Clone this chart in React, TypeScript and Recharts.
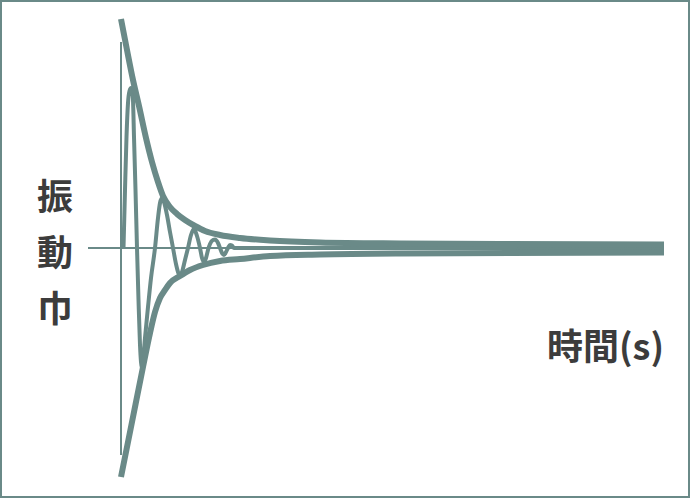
import { LineChart, Line, XAxis, YAxis, ReferenceLine } from "recharts";

const teal = "#6a8a88";
const ink = "#3c3c3c";

// upper envelope
const upperTime = [0, 3, 6, 9, 12.5, 15.5, 18.5, 21, 24.5, 28, 32, 37, 42, 49.5, 59.5, 74.5, 99.5, 139.5, 189.5, 271.5];
const upperAmp = [114.5, 99, 84, 71, 55, 43, 33, 26, 20.5, 17, 14, 11, 8.5, 6.5, 5, 3.75, 2.75, 2.25, 2, 1.75];

// lower envelope
const lowerTime = [0, 5.5, 11, 14.5, 17, 19.5, 22, 24.5, 29.5, 34.5, 41, 49.5, 59.5, 74.5, 99.5, 139.5, 271.5];
const lowerAmp = [-114.5, -87, -59.5, -42.5, -32, -25, -21, -17.5, -14, -11, -8.5, -6.5, -5.5, -4, -3.25, -2.75, -2.25];

// damped oscillation
const waveTime = [
  1.25, 2, 2.75, 3.5, 4.25, 5, 5.75, 6, 6.5, 7.25, 8, 8.75, 9.5, 10.5, 12, 13.5, 15, 17, 18.5, 19.5,
  20.5, 21.5, 23, 24.5, 26, 27.5, 28.5, 29.5, 30.5, 32, 33.5, 35, 36.5, 38, 39.5, 40.5, 41.5, 42.5,
  43.5, 44.5, 46, 47, 48.5, 49.5, 50.5, 51.5, 52.5, 53.5, 54.5, 55.5, 56.5, 271.5,
];
const waveAmp = [
  0, 29, 55.5, 72.5, 78.5, 80, 78, 74, 55.5, 29, 0, -26, -48.5, -60, -45, -29.5, -15, 0, 15, 22.5,
  25, 23, 16.5, 8, 0, -8, -12, -14, -12, -6, 0, 6.5, 9.5, 6, 0, -5, -7, -5,
  -1, 2, 4, 4.25, 2.5, 0, -2.5, -3.5, -2, 0, 1.5, 1.25, 0, 0,
];

const xRange: [number, number] = [-16.5, 271.5];
const yRange: [number, number] = [-115, 115];
const axisHalf = [-103.5, 103];

const toPoints = (t: number[], a: number[]) => t.map((v, i) => ({ t: v, a: a[i] }));

export default function App() {
  const upper = toPoints(upperTime, upperAmp);
  const lower = toPoints(lowerTime, lowerAmp);
  const wave = toPoints(waveTime, waveAmp);

  return (
    <div style={{ position: "fixed", left: 0, top: 0, width: 690, height: 498, background: "#fff" }}>
      <LineChart width={690} height={498} margin={{ top: 18, right: 26, bottom: 20, left: 88 }}>
        <XAxis dataKey="t" type="number" domain={xRange} allowDataOverflow hide />
        <YAxis dataKey="a" type="number" domain={yRange} allowDataOverflow hide />
        <ReferenceLine segment={[{ x: xRange[0], y: 0 }, { x: xRange[1], y: 0 }]} stroke={teal} strokeWidth={2} />
        <ReferenceLine segment={[{ x: 0, y: axisHalf[0] }, { x: 0, y: axisHalf[1] }]} stroke={teal} strokeWidth={2} />
        <Line data={wave} dataKey="a" type="monotone" stroke={teal} strokeWidth={4} dot={false} isAnimationActive={false} />
        <Line data={upper} dataKey="a" type="monotone" stroke={teal} strokeWidth={6} dot={false} isAnimationActive={false} />
        <Line data={lower} dataKey="a" type="monotone" stroke={teal} strokeWidth={6} dot={false} isAnimationActive={false} />
      </LineChart>
      <div
        style={{
          position: "absolute", left: 29, top: 166, width: 52, textAlign: "center",
          fontFamily: "'Noto Sans CJK JP', sans-serif", fontSize: 36, fontWeight: 700, lineHeight: "56px", color: ink,
        }}
      >
        <div>振</div>
        <div>動</div>
        <div>巾</div>
      </div>
      <div
        style={{
          position: "absolute", right: 26, top: 323, lineHeight: "42px",
          fontFamily: "'Noto Sans CJK JP', sans-serif", fontSize: 36, fontWeight: 700, color: ink,
        }}
      >
        時間(s)
      </div>
      <div style={{ position: "absolute", inset: 0, border: `2px solid ${teal}`, pointerEvents: "none" }} />
    </div>
  );
}
